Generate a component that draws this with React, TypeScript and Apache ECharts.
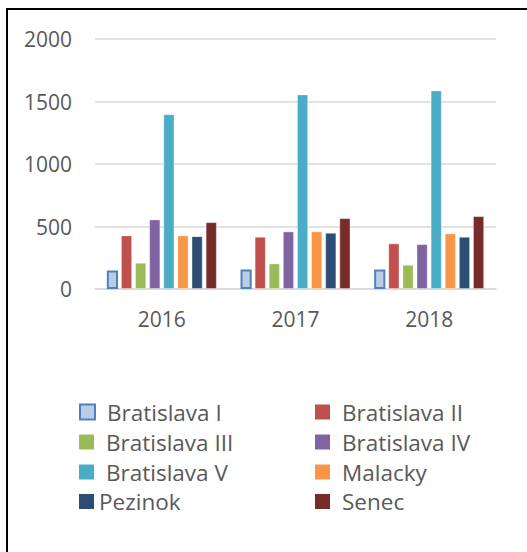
import React, { useEffect, useRef } from "react";
import * as echarts from "echarts";

const years = ["2016", "2017", "2018"];
const seriesNames = [
  "Bratislava I",
  "Bratislava II",
  "Bratislava III",
  "Bratislava IV",
  "Bratislava V",
  "Malacky",
  "Pezinok",
  "Senec",
];
const bratislavaI = [148, 157, 157];
const bratislavaII = [429, 418, 365];
const bratislavaIII = [210, 205, 194];
const bratislavaIV = [557, 461, 359];
const bratislavaV = [1398, 1557, 1589];
const malacky = [429, 461, 445];
const pezinok = [423, 450, 418];
const senec = [535, 567, 583];
const yTicks = [0, 500, 1000, 1500, 2000];

const seriesValues = [
  bratislavaI,
  bratislavaII,
  bratislavaIII,
  bratislavaIV,
  bratislavaV,
  malacky,
  pezinok,
  senec,
];
const colors = [
  "#b9cde5",
  "#c0504d",
  "#9bbb59",
  "#8064a2",
  "#4bacc6",
  "#f79646",
  "#2c4d75",
  "#772c2a",
];

export default function App() {
  const ref = useRef<HTMLDivElement>(null);
  useEffect(() => {
    document.body.style.margin = "0";
    if (!ref.current) return;
    const chart = echarts.init(ref.current, null, { renderer: "svg" });
    const font = "'Open Sans', 'Liberation Sans', sans-serif";
    const textColor = "#595959";
    const series = seriesNames.map((name, i) => ({
      name,
      type: "bar",
      data: seriesValues[i],
      barGap: "26%",
      barCategoryGap: "17.7%",
      itemStyle:
        i === 0
          ? { color: colors[i], borderColor: "#4f81bd", borderWidth: 2 }
          : { color: colors[i], borderColor: "rgba(255,255,255,0.35)", borderWidth: 1 },
    }));
    const legendItem = (name: string, left: number, centerY: number, pad: number) => ({
      left,
      top: centerY - 11,
      padding: 0,
      orient: "vertical",
      icon: "rect",
      itemWidth: 15,
      itemHeight: 15,
      selectedMode: false,
      data: [
        name === "Bratislava I"
          ? { name, itemStyle: { color: colors[0], borderColor: "#4f81bd", borderWidth: 2 } }
          : { name, itemStyle: { borderWidth: 0 } },
      ],
      textStyle: {
        fontFamily: font,
        fontSize: 22.5,
        color: textColor,
        lineHeight: 22,
        padding: [0, 0, 0, pad],
      },
    });
    const rows = [411.5, 441.5, 471.5, 501];
    const legends = [
      legendItem("Bratislava I", 79, rows[0], 7),
      legendItem("Bratislava II", 315, rows[0], 7),
      legendItem("Bratislava III", 79, rows[1], 7),
      legendItem("Bratislava IV", 315, rows[1], 7),
      legendItem("Bratislava V", 79, rows[2], 7),
      legendItem("Malacky", 315, rows[2], 7),
      legendItem("Pezinok", 79, rows[3], 0),
      legendItem("Senec", 315, rows[3], 7),
    ];
    chart.setOption({
      animation: false,
      backgroundColor: "#ffffff",
      color: colors,
      textStyle: { fontFamily: font },
      grid: { left: 95, right: 31, top: 39, bottom: 263, containLabel: false },
      xAxis: {
        type: "category",
        data: years,
        axisLine: { lineStyle: { color: "#d9d9d9", width: 1.5 } },
        axisTick: { show: false },
        axisLabel: { color: textColor, fontSize: 21, fontFamily: font, margin: 19 },
      },
      yAxis: {
        type: "value",
        min: yTicks[0],
        max: yTicks[yTicks.length - 1],
        interval: yTicks[1] - yTicks[0],
        axisLine: { show: false },
        axisTick: { show: false },
        splitLine: { lineStyle: { color: "#d9d9d9", width: 1.5 } },
        axisLabel: {
          color: textColor,
          fontSize: 21,
          fontFamily: font,
          margin: 23,
          formatter: (v: number) => String(v),
        },
      },
      legend: legends,
      graphic: [
        {
          type: "rect",
          shape: { x: 7, y: 9, width: 700, height: 700 },
          style: { fill: "none", stroke: "#000000", lineWidth: 2 },
          z: 100,
        },
      ],
      series,
    });
    return () => chart.dispose();
  }, []);
  return <div ref={ref} style={{ width: 527, height: 552 }} />;
}
